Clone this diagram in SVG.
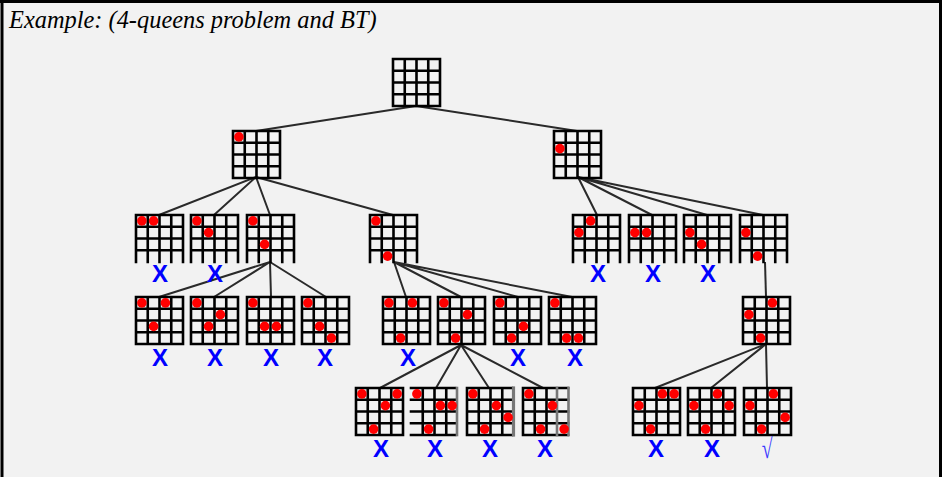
<svg xmlns="http://www.w3.org/2000/svg" xmlns:xlink="http://www.w3.org/1999/xlink" width="942" height="477" viewBox="0 0 942 477">
<style>
.g{fill:none;stroke:#000;stroke-width:2.6;stroke-linecap:square}
.gg{fill:none;stroke:#777;stroke-width:2.6;stroke-linecap:square}
.q{fill:#f00}
.c{stroke:#2a2a2a;stroke-width:2;fill:none}
.x{font-family:"Liberation Sans",Arial,sans-serif;font-weight:bold;font-size:24px;fill:#0000ff;text-anchor:middle}
.ok{font-family:"Liberation Serif","Times New Roman",serif;font-size:28px;fill:#3a3aff;text-anchor:middle}
.t{font-family:"Liberation Serif","Times New Roman",serif;font-style:italic;font-size:24.4px;fill:#000}
</style>
<defs>
<path id="b" class="g" d="M0,0H47M0,11.75H47M0,23.5H47M0,35.25H47M0,47H47M0,0V47M11.75,0V47M23.5,0V47M35.25,0V47M47,0V47"/>
<path id="bo" class="g" d="M0,0H47M0,11.75H47M0,23.5H47M0,35.25H47M0,0V47M11.75,0V47M23.5,0V47M35.25,0V47M47,0V47"/>
<circle id="q" class="q" r="4.8"/>
</defs>
<rect x="0" y="0" width="942" height="477" fill="#f2f2f2"/>
<path d="M2,0V477M0,1.5H942M940.5,0V477" stroke="#000" stroke-width="3" fill="none"/>
<text class="t" x="9" y="28">Example: (4-queens problem and BT)</text>

<g id="connectors">
<path class="c" d="M416,106L256,131M416,106L577,131"/>
<path class="c" d="M256,177L159,215M256,177L214,215M256,177L270,215M256,177L393,215"/>
<path class="c" d="M578,177L597,215M578,177L652,215M578,177L707,215M578,177L763,215"/>
<path class="c" d="M270,262L159,297M270,262L214,297M270,262L271,297M270,262L326,297"/>
<path class="c" d="M394,262L406,297M394,262L461,297M394,262L518,297M394,262L572,297"/>
<path class="c" d="M765,262L766,297"/>
<path class="c" d="M461,345L380,388M461,345L436,388M461,345L489,388M461,345L543,388"/>
<path class="c" d="M766,344L655,388M766,344L711,388M766,344L767,388"/>
</g>

<g id="root"><use xlink:href="#b" x="393" y="59"/></g>

<g id="n1a"><use xlink:href="#b" x="233" y="131"/><use xlink:href="#q" x="238.9" y="136.9"/></g>
<g id="n1b"><use xlink:href="#b" x="554" y="131"/><use xlink:href="#q" x="559.9" y="148.6"/></g>

<g id="n2a"><use xlink:href="#bo" x="136" y="215"/><use xlink:href="#q" x="141.9" y="220.9"/><use xlink:href="#q" x="153.6" y="220.9"/><text class="x" x="160" y="282">X</text></g>
<g id="n2b"><use xlink:href="#bo" x="191" y="215"/><use xlink:href="#q" x="196.9" y="220.9"/><use xlink:href="#q" x="208.6" y="232.6"/><text class="x" x="215" y="282">X</text></g>
<g id="n2c"><use xlink:href="#bo" x="247" y="215"/><use xlink:href="#q" x="252.9" y="220.9"/><use xlink:href="#q" x="264.6" y="244.4"/></g>
<g id="n2d"><use xlink:href="#bo" x="370" y="215"/><use xlink:href="#q" x="375.9" y="220.9"/><use xlink:href="#q" x="387.6" y="256.1"/></g>
<g id="n2e"><use xlink:href="#bo" x="573" y="215"/><use xlink:href="#q" x="578.9" y="232.6"/><use xlink:href="#q" x="590.6" y="220.9"/><text class="x" x="598" y="282">X</text></g>
<g id="n2f"><use xlink:href="#bo" x="629" y="215"/><use xlink:href="#q" x="634.9" y="232.6"/><use xlink:href="#q" x="646.6" y="232.6"/><text class="x" x="653" y="282">X</text></g>
<g id="n2g"><use xlink:href="#bo" x="684" y="215"/><use xlink:href="#q" x="689.9" y="232.6"/><use xlink:href="#q" x="701.6" y="244.4"/><text class="x" x="708" y="282">X</text></g>
<g id="n2h"><use xlink:href="#bo" x="740" y="215"/><use xlink:href="#q" x="745.9" y="232.6"/><use xlink:href="#q" x="757.6" y="256.1"/></g>

<g id="n3a"><use xlink:href="#b" x="136" y="297"/><use xlink:href="#q" x="141.9" y="302.9"/><use xlink:href="#q" x="165.4" y="302.9"/><use xlink:href="#q" x="153.6" y="326.4"/><text class="x" x="160" y="366">X</text></g>
<g id="n3b"><use xlink:href="#b" x="191" y="297"/><use xlink:href="#q" x="196.9" y="302.9"/><use xlink:href="#q" x="220.4" y="314.6"/><use xlink:href="#q" x="208.6" y="326.4"/><text class="x" x="215" y="366">X</text></g>
<g id="n3c"><use xlink:href="#b" x="247" y="297"/><use xlink:href="#q" x="252.9" y="302.9"/><use xlink:href="#q" x="264.6" y="326.4"/><use xlink:href="#q" x="276.4" y="326.4"/><text class="x" x="271" y="366">X</text></g>
<g id="n3d"><use xlink:href="#b" x="302" y="297"/><use xlink:href="#q" x="307.9" y="302.9"/><use xlink:href="#q" x="319.6" y="326.4"/><use xlink:href="#q" x="331.4" y="338.1"/><text class="x" x="325" y="366">X</text></g>
<g id="n3e"><use xlink:href="#b" x="383" y="297"/><use xlink:href="#q" x="388.9" y="302.9"/><use xlink:href="#q" x="412.4" y="302.9"/><use xlink:href="#q" x="400.6" y="338.1"/><text class="x" x="408" y="366">X</text></g>
<g id="n3f"><use xlink:href="#b" x="438" y="297"/><use xlink:href="#q" x="443.9" y="302.9"/><use xlink:href="#q" x="467.4" y="314.6"/><use xlink:href="#q" x="455.6" y="338.1"/></g>
<g id="n3g"><use xlink:href="#b" x="494" y="297"/><use xlink:href="#q" x="499.9" y="302.9"/><use xlink:href="#q" x="523.4" y="326.4"/><use xlink:href="#q" x="511.6" y="338.1"/><text class="x" x="518" y="366">X</text></g>
<g id="n3h"><use xlink:href="#b" x="549" y="297"/><use xlink:href="#q" x="554.9" y="302.9"/><use xlink:href="#q" x="566.6" y="338.1"/><use xlink:href="#q" x="578.4" y="338.1"/><text class="x" x="575" y="366">X</text></g>
<g id="n3i"><use xlink:href="#b" x="743" y="297"/><use xlink:href="#q" x="748.9" y="314.6"/><use xlink:href="#q" x="772.4" y="302.9"/><use xlink:href="#q" x="760.6" y="338.1"/></g>

<g id="n4a"><use xlink:href="#b" x="356" y="388"/><use xlink:href="#q" x="361.9" y="393.9"/><use xlink:href="#q" x="397.1" y="393.9"/><use xlink:href="#q" x="385.4" y="405.6"/><use xlink:href="#q" x="373.6" y="429.1"/><text class="x" x="381" y="457">X</text></g>
<g id="n4b"><path class="g" transform="translate(411,388)" d="M0,0H44M0,11.75H44M0,23.5H44M0,35.25H44M0,47H44M11.75,0V47M23.5,0V47M35.25,0V47"/><path class="gg" transform="translate(411,388)" d="M46,0V47"/><use xlink:href="#q" x="416.9" y="393.9"/><use xlink:href="#q" x="440.4" y="405.6"/><use xlink:href="#q" x="452.1" y="405.6"/><use xlink:href="#q" x="428.6" y="429.1"/><text class="x" x="435" y="457">X</text></g>
<g id="n4c"><path class="g" transform="translate(467,388)" d="M0,0H45M0,11.75H45M0,23.5H45M0,35.25H45M0,47H45M0,0V47M11.75,0V47M23.5,0V47M35.25,0V47"/><path class="gg" transform="translate(467,388)" d="M46.5,0V47" style="stroke-width:3.2"/><use xlink:href="#q" x="472.9" y="393.9"/><use xlink:href="#q" x="496.4" y="405.6"/><use xlink:href="#q" x="508.1" y="417.4"/><use xlink:href="#q" x="484.6" y="429.1"/><text class="x" x="490" y="457">X</text></g>
<g id="n4d"><path class="g" transform="translate(523,388)" d="M0,0H45M0,11.75H45M0,23.5H45M0,35.25H45M0,47H45M0,0V47M11.75,0V47M23.5,0V47"/><path class="gg" transform="translate(523,388)" d="M34,0V47M45.5,0V47"/><use xlink:href="#q" x="528.9" y="393.9"/><use xlink:href="#q" x="552.4" y="405.6"/><use xlink:href="#q" x="540.6" y="429.1"/><use xlink:href="#q" x="564.1" y="429.1"/><text class="x" x="545" y="457">X</text></g>
<g id="n4e"><use xlink:href="#b" x="633" y="388"/><use xlink:href="#q" x="638.9" y="405.6"/><use xlink:href="#q" x="662.4" y="393.9"/><use xlink:href="#q" x="674.1" y="393.9"/><use xlink:href="#q" x="650.6" y="429.1"/><text class="x" x="656" y="457">X</text></g>
<g id="n4f"><use xlink:href="#b" x="688" y="388"/><use xlink:href="#q" x="693.9" y="405.6"/><use xlink:href="#q" x="717.4" y="393.9"/><use xlink:href="#q" x="729.1" y="405.6"/><use xlink:href="#q" x="705.6" y="429.1"/><text class="x" x="712" y="457">X</text></g>
<g id="n4g"><use xlink:href="#b" x="744" y="388"/><use xlink:href="#q" x="749.9" y="405.6"/><use xlink:href="#q" x="773.4" y="393.9"/><use xlink:href="#q" x="785.1" y="417.4"/><use xlink:href="#q" x="761.6" y="429.1"/><text class="ok" transform="translate(767,458) scale(0.7,1)">√</text></g>
</svg>
